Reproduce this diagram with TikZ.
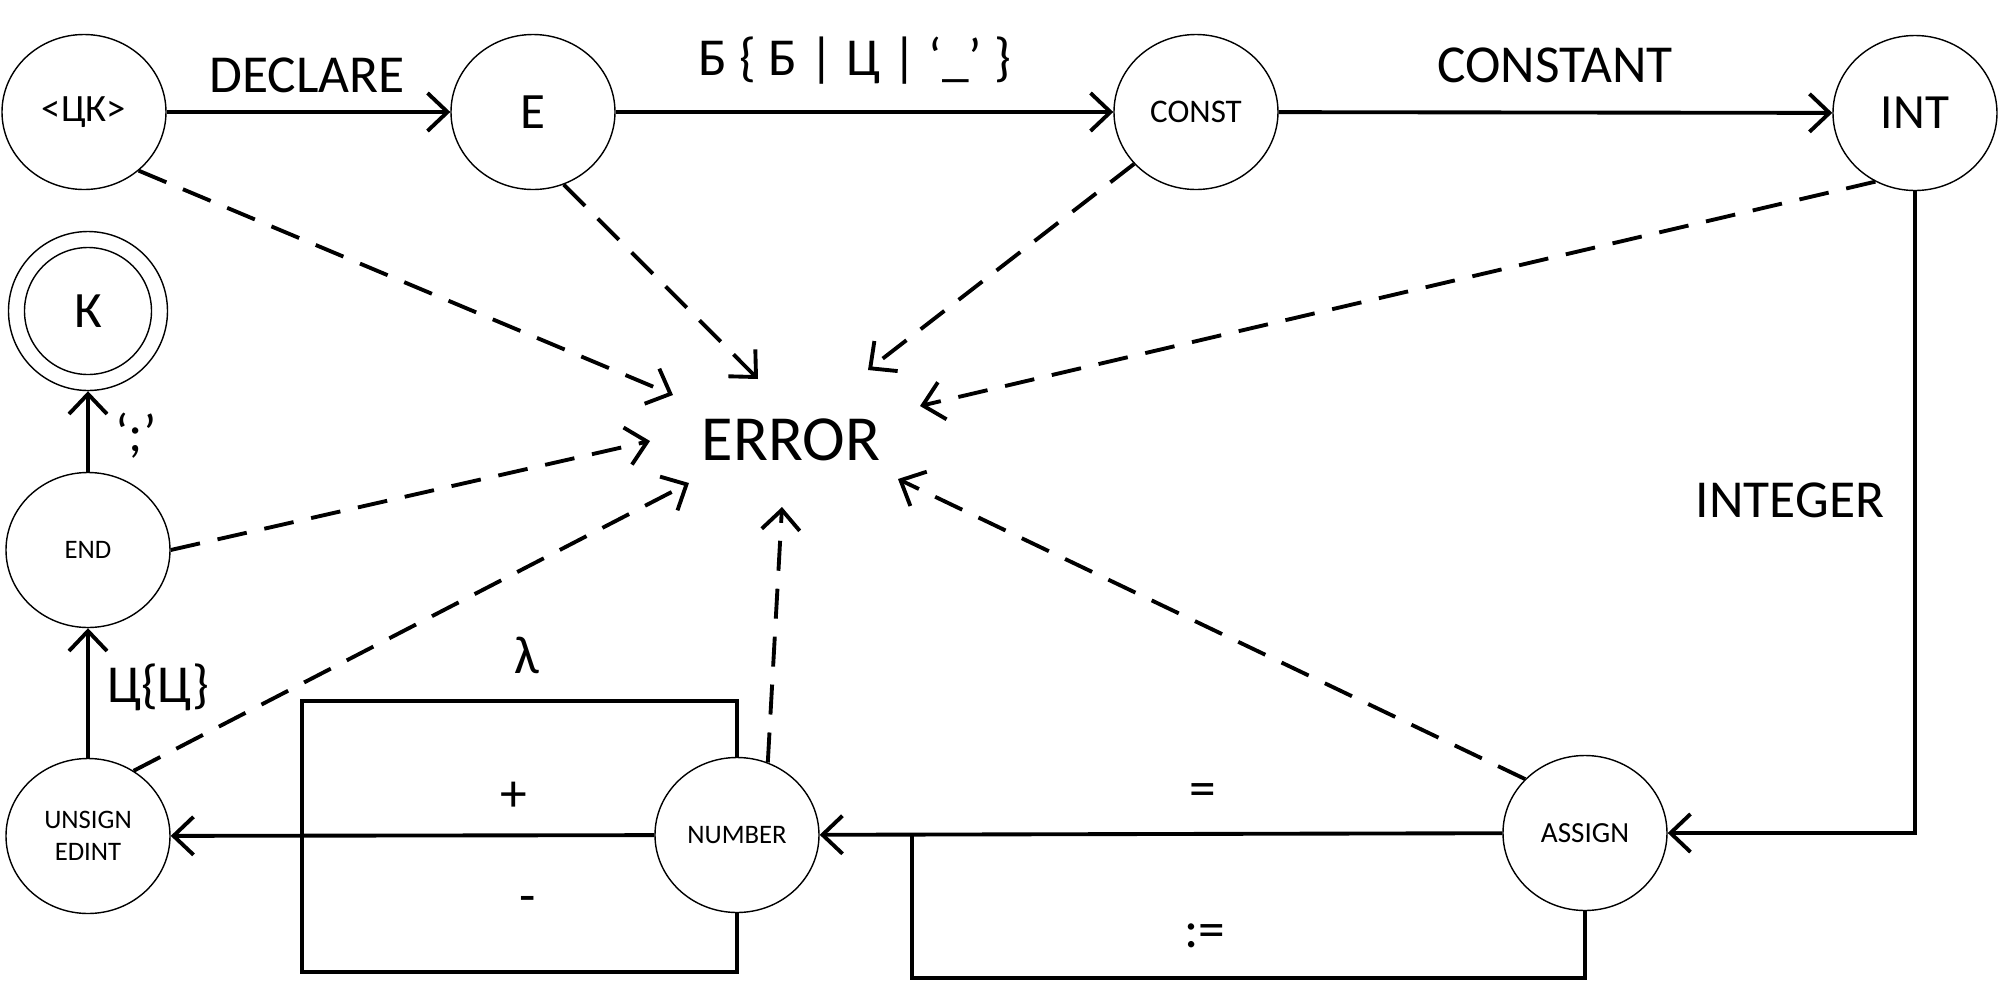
\documentclass[tikz,border=0pt]{standalone}
\usepackage{fontspec}
\setmainfont{Carlito}
\usetikzlibrary{arrows.meta,shapes.geometric}
\begin{document}
\begin{tikzpicture}[x=0.1mm,y=-0.1mm,
  state/.style={ellipse,draw,line width=0.4pt,minimum width=16.4mm,minimum height=15.5mm,inner sep=0pt},
  lab/.style={font=\fontsize{15.2}{18}\selectfont},
  sm/.style={font=\fontsize{7.6}{9.1}\selectfont},
  tr/.style={line width=1.1pt,-{Straight Barb[length=2mm,width=3.8mm]}},
  err/.style={tr,dash pattern=on 3mm off 1.8mm},
  wire/.style={line width=1.1pt}]
\fill[white] (0,0) rectangle (2000,1000);
\useasboundingbox (0,0) rectangle (2000,1000);

% states
\node[state,font=\fontsize{11}{13}\selectfont] (ck) at (84,112) {<ЦК>};
\node[state,font=\fontsize{14.5}{17}\selectfont] (e) at (533,112) {E};
\node[state,font=\fontsize{9.4}{11}\selectfont] (const) at (1196,112) {CONST};
\node[state,font=\fontsize{14}{17}\selectfont] (int) at (1915,113) {INT};
\node[circle,draw,line width=0.4pt,minimum size=15.9mm,inner sep=0pt,font=\fontsize{14.5}{17}\selectfont] (k) at (88,311) {К};
\draw[line width=0.4pt] (k.center) circle[radius=6.35mm];
\node[state,sm] (end) at (88,550) {END};
\node[state,sm,align=center] (unsign) at (88,836) {UNSIGN\\EDINT};
\node[state,sm] (number) at (737,835) {NUMBER};
\node[state,font=\fontsize{8.3}{10}\selectfont] (assign) at (1585,833) {ASSIGN};
\node[font=\fontsize{18.3}{22}\selectfont,anchor=base] (error) at (791,460) {ERROR};

% solid transitions
\draw[tr] (ck) -- (e);
\draw[tr] (e) -- (const);
\draw[tr] (const) -- (int);
\draw[tr] (int) |- (assign);
\draw[tr] (end) -- (k);
\draw[tr] (unsign) -- (end);
\draw[tr] (number) -- (unsign);
\draw[tr] (assign) -- (number);

% loops
\coordinate (lt) at (302,701);
\coordinate (lb) at (302,972);
\draw[wire] (number.north) |- (lt) -- (lb) -| (number.south);
\coordinate (rb) at (912,978);
\draw[wire] (assign.south) |- (rb) -- (rb |- number.east);

% error transitions
\coordinate (t1) at (673,395);
\coordinate (t2) at (758,379);
\coordinate (t3) at (868,370);
\coordinate (t4) at (920,406);
\coordinate (t5) at (650,441);
\coordinate (t6) at (689,483);
\coordinate (t7) at (782,507);
\coordinate (t8) at (898,479);
\draw[err] (ck.-47) -- (t1);
\draw[err] (e.-67) -- (t2);
\draw[err] (const.220) -- (t3);
\draw[err] (int.240) -- (t4);
\draw[err] (end.0) -- (t5);
\draw[err] (unsign.55) -- (t6);
\draw[err] (number.67) -- (t7);
\draw[err] (assign.138) -- (t8);

% labels
\node[lab,anchor=base] (l1) at (307,92) {DECLARE};
\node[lab,anchor=base] (l2) at (855,75) {Б \{ Б | Ц | ‘\_’ \}};
\node[lab,anchor=base] (l3) at (1555,82) {CONSTANT};
\node[lab,anchor=base] (l4) at (1790,517) {INTEGER};
\node[lab,anchor=base] (l5) at (136,451) {‘;’};
\node[lab,anchor=base] (l6) at (158,702) {Ц\{Ц\}};
\node[lab,anchor=base] (l7) at (527,673) {λ};
\node[lab] (l8) at (514,797) {+};
\node[lab] (l9) at (528,905) {-};
\node[lab] (l10) at (1203,795) {=};
\node[lab] (l11) at (1205,936) {:=};
\end{tikzpicture}
\end{document}
